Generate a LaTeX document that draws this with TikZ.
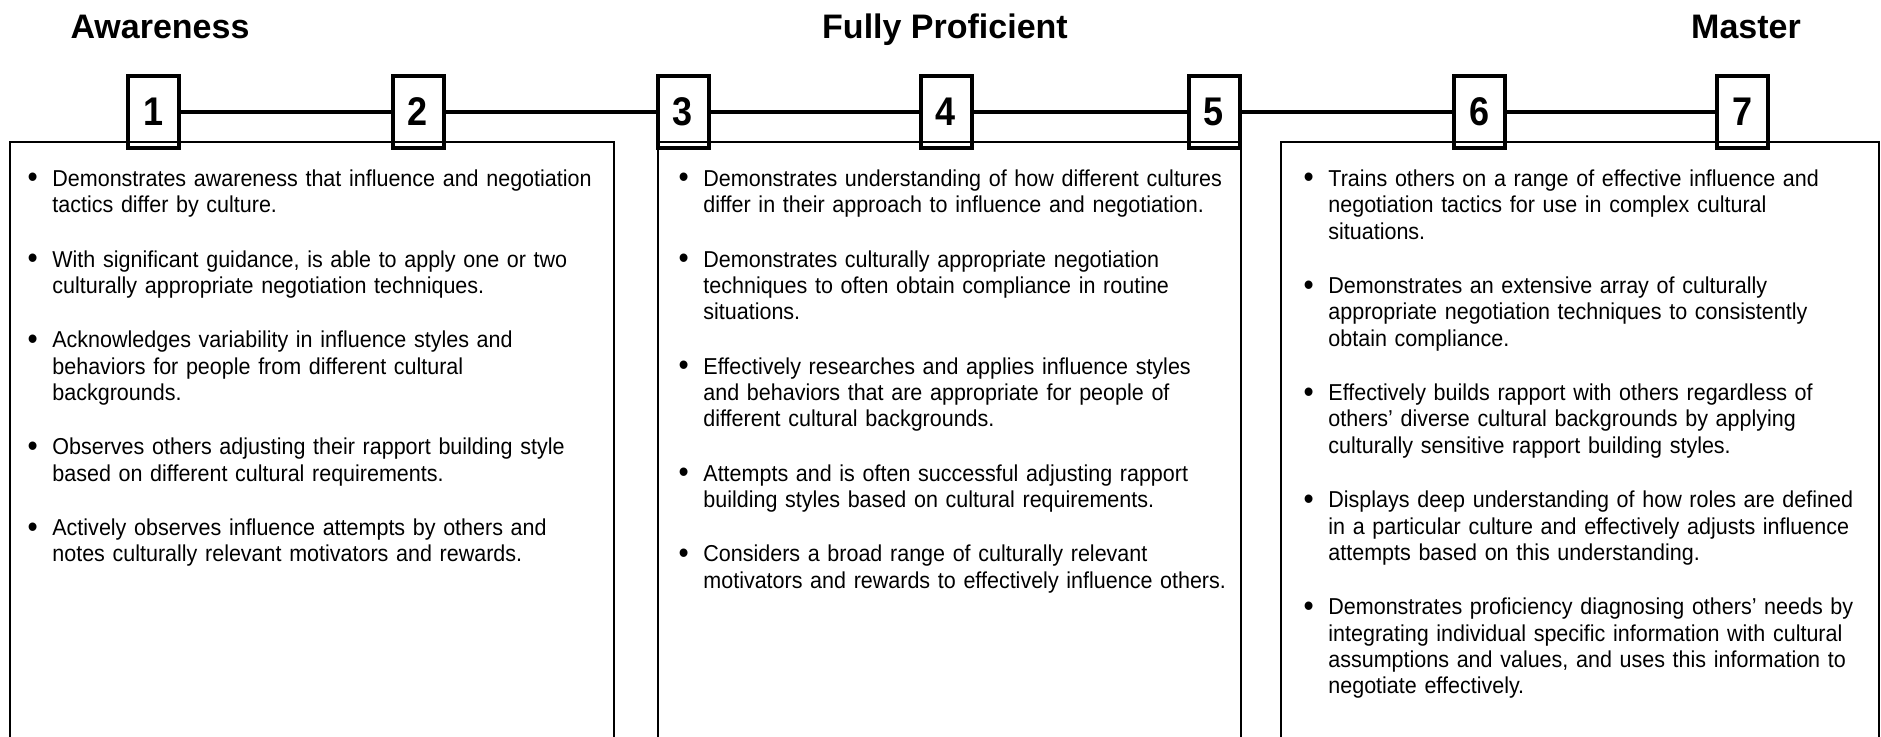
\documentclass[tikz,border=0pt]{standalone}
\usepackage{fontspec}
\usepackage{graphicx}
\setmainfont{Liberation Sans}
\newfontfamily\bodyf{Liberation Sans}[FakeStretch=0.935]
\newfontfamily\numf{Liberation Sans}[FakeStretch=0.9]
\newcommand\bmark{\raisebox{-0.07em}{\scalebox{1.35}{\textbullet}}}
\newcommand\bitem[1]{\par\noindent\llap{\bmark\hspace{7.3pt}}\rule{0pt}{10pt}#1\par}
\newcommand\bgap{\vspace{13.95pt}}
\tikzset{
  lvltitle/.style={font=\fontsize{17pt}{20pt}\selectfont\bfseries, inner sep=0pt, anchor=base},
  numbox/.style={draw, line width=2pt, minimum width=25.5pt, minimum height=36pt, inner sep=0pt,
    font=\numf\bfseries\fontsize{20pt}{24pt}\selectfont},
  conn/.style={line width=2pt},
  panel/.style={line width=1pt},
  col/.style={anchor=north west, inner sep=0pt, text width=285pt, align=left,
    font=\bodyf\fontsize{11.5pt}{13.2pt}\selectfont},
}
\begin{document}
\begin{tikzpicture}[x=0.5pt,y=-0.5pt]
\useasboundingbox (0,0) rectangle (1881,736);
\clip (0,0) rectangle (1881,736);

% titles
\node[lvltitle] (t1) at (160,38) {Awareness};
\node[lvltitle] (t2) at (945,38) {Fully Proficient};
\node[lvltitle] (t3) at (1746,38) {Master};

% panels (open at the bottom)
\draw[panel] (10,745) -- (10,142) -- (614,142) -- (614,745);
\draw[panel] (658,745) -- (658,142) -- (1241,142) -- (1241,745);
\draw[panel] (1281,745) -- (1281,142) -- (1879,142) -- (1879,745);

% level boxes
\node[numbox] (n1) at (153.5,112) {1};
\node[numbox] (n2) at (418,112) {2};
\node[numbox] (n3) at (683,112) {3};
\node[numbox] (n4) at (946,112) {4};
\node[numbox] (n5) at (1214,112) {5};
\node[numbox] (n6) at (1479,112) {6};
\node[numbox] (n7) at (1742,112) {7};

\draw[conn] (n1) -- (n2);
\draw[conn] (n2) -- (n3);
\draw[conn] (n3) -- (n4);
\draw[conn] (n4) -- (n5);
\draw[conn] (n5) -- (n6);
\draw[conn] (n6) -- (n7);

% column texts
\node[col] (c1) at (52,159.5) {%
\bitem{Demonstrates awareness that influence and negotiation\\tactics differ by culture.}\bgap
\bitem{With significant guidance, is able to apply one or two\\culturally appropriate negotiation techniques.}\bgap
\bitem{Acknowledges variability in influence styles and\\behaviors for people from different cultural\\backgrounds.}\bgap
\bitem{Observes others adjusting their rapport building style\\based on different cultural requirements.}\bgap
\bitem{Actively observes influence attempts by others and\\notes culturally relevant motivators and rewards.}};

\node[col] (c2) at (703,159.5) {%
\bitem{Demonstrates understanding of how different cultures\\differ in their approach to influence and negotiation.}\bgap
\bitem{Demonstrates culturally appropriate negotiation\\techniques to often obtain compliance in routine\\situations.}\bgap
\bitem{Effectively researches and applies influence styles\\and behaviors that are appropriate for people of\\different cultural backgrounds.}\bgap
\bitem{Attempts and is often successful adjusting rapport\\building styles based on cultural requirements.}\bgap
\bitem{Considers a broad range of culturally relevant\\motivators and rewards to effectively influence others.}};

\node[col] (c3) at (1328,159.5) {%
\bitem{Trains others on a range of effective influence and\\negotiation tactics for use in complex cultural\\situations.}\bgap
\bitem{Demonstrates an extensive array of culturally\\appropriate negotiation techniques to consistently\\obtain compliance.}\bgap
\bitem{Effectively builds rapport with others regardless of\\others’ diverse cultural backgrounds by applying\\culturally sensitive rapport building styles.}\bgap
\bitem{Displays deep understanding of how roles are defined\\in a particular culture and effectively adjusts influence\\attempts based on this understanding.}\bgap
\bitem{Demonstrates proficiency diagnosing others’ needs by\\integrating individual specific information with cultural\\assumptions and values, and uses this information to\\negotiate effectively.}};
\end{tikzpicture}
\end{document}
